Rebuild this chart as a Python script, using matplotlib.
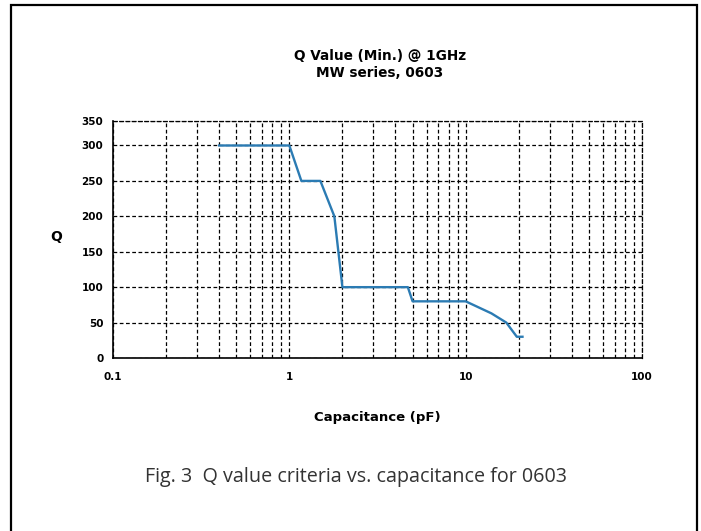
import matplotlib
matplotlib.use("Agg")
import matplotlib.pyplot as plt
from matplotlib.ticker import LogLocator, NullFormatter, FixedLocator, FixedFormatter
from matplotlib.patches import Rectangle

# Data
capacitance = [0.4, 1.0, 1.17, 1.5, 1.8, 2.0, 4.7, 5.0, 10, 14, 17, 19.5, 21]
q_value = [300, 300, 250, 250, 200, 100, 100, 80, 80, 63, 50, 30, 30]
x_ticks = [0.1, 1, 10, 100]
x_tick_labels = ["0.1", "1", "10", "100"]
y_ticks = [0, 50, 100, 150, 200, 250, 300, 335]
y_tick_labels = ["0", "50", "100", "150", "200", "250", "300", "350"]

title_lines = ["Q Value (Min.) @ 1GHz", "MW series, 0603"]
x_label = "Capacitance (pF)"
y_label = "Q"
caption = "Fig. 3  Q value criteria vs. capacitance for 0603"

fig = plt.figure(figsize=(7.01, 5.31), dpi=100)
fig.patch.set_facecolor("white")

# outer frame
fig.patches.append(Rectangle((11/701, -0.01), (697-11)/701, 1 - 5.3/531 + 0.01,
                             transform=fig.transFigure, fill=False,
                             edgecolor="black", linewidth=1.6))

ax = fig.add_axes([113/701, (531-358)/531, (642-113)/701, (358-120.7)/531])
ax.plot(capacitance, q_value, color="#2b7bb3", linewidth=1.7, zorder=3)

ax.set_xscale("log")
ax.set_xlim(0.1, 100)
ax.set_ylim(0, 335)

ax.xaxis.set_major_locator(FixedLocator(x_ticks))
ax.xaxis.set_major_formatter(FixedFormatter(x_tick_labels))
ax.xaxis.set_minor_locator(LogLocator(base=10, subs=range(2, 10)))
ax.xaxis.set_minor_formatter(NullFormatter())
ax.yaxis.set_major_locator(FixedLocator(y_ticks))
ax.yaxis.set_major_formatter(FixedFormatter(y_tick_labels))

ax.grid(True, which="both", axis="x", color="black", linestyle=(0, (3, 2)), linewidth=0.9)
ax.grid(True, which="major", axis="y", color="black", linestyle=(0, (3, 2)), linewidth=0.9)
ax.tick_params(which="both", length=0)
ax.tick_params(axis="x", pad=10)
ax.tick_params(axis="y", pad=7)
for lbl in ax.get_xticklabels() + ax.get_yticklabels():
    lbl.set_fontweight("bold")
    lbl.set_fontsize(7.5)
    lbl.set_family("DejaVu Sans")

for s in ["left", "bottom"]:
    ax.spines[s].set_linewidth(1.2)
for s in ["top", "right"]:
    ax.spines[s].set_linewidth(0.9)
    ax.spines[s].set_linestyle((0, (3, 2)))

fig.text(377/701, 1 - 418/531, x_label, ha="center", va="center",
         fontsize=9.5, fontweight="bold", family="DejaVu Sans")
fig.text(56/701, 1 - 237/531, y_label, ha="center", va="center",
         fontsize=10, fontweight="bold", family="DejaVu Sans")

fig.text(380/701, 1 - 56/531, title_lines[0], ha="center", va="center",
         fontsize=9.8, fontweight="bold", family="DejaVu Sans")
fig.text(380/701, 1 - 73/531, title_lines[1], ha="center", va="center",
         fontsize=9.8, fontweight="bold", family="DejaVu Sans")

fig.text(356/701, 1 - 477/531, caption, ha="center", va="center",
         fontsize=14.2, color="#333333", family="Open Sans")

fig.savefig("out.png", dpi=100)
